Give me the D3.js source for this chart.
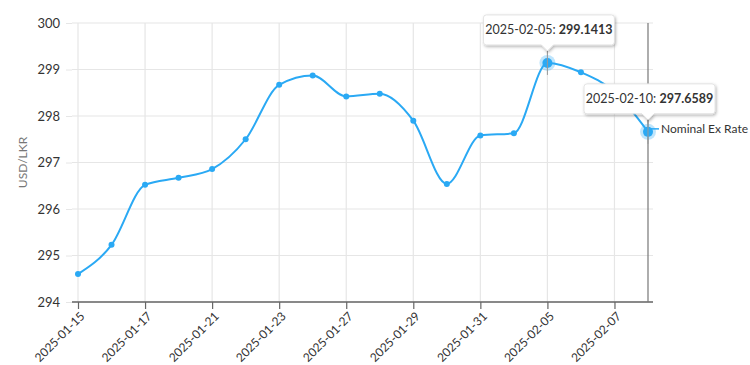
<html>
<head>
<script src="https://d3js.org/d3.v7.min.js"></script>
<style>
  body { margin: 0; background: #fff; }
  text { font-family: Lato, "Open Sans", sans-serif; }
</style>
</head>
<body>
<div id="chart"></div>
<script>
// data
var dates = ["2025-01-15", "2025-01-16", "2025-01-17", "2025-01-20", "2025-01-21", "2025-01-22",
             "2025-01-23", "2025-01-24", "2025-01-27", "2025-01-28", "2025-01-29", "2025-01-30",
             "2025-01-31", "2025-02-03", "2025-02-05", "2025-02-06", "2025-02-07", "2025-02-10"];
var rates = [294.60, 295.23, 296.52, 296.67, 296.86, 297.50,
             298.67, 298.87, 298.42, 298.48, 297.90, 296.54,
             297.58, 297.63, 299.1413, 298.94, 298.52, 297.6589];
var labelDates = ["2025-01-15", "2025-01-17", "2025-01-21", "2025-01-23", "2025-01-27",
                  "2025-01-29", "2025-01-31", "2025-02-05", "2025-02-07"];
var yTicks = [294, 295, 296, 297, 298, 299, 300];
var seriesName = "Nominal Ex Rate";
var yTitle = "USD/LKR";
var tipDates = ["2025-02-05", "2025-02-10"];

var W = 750, H = 365;
var plotL = 72, plotR = 653, plotT = 23, plotB = 302;
var color = "#2aa9f4";

var svg = d3.select("#chart").append("svg")
    .attr("width", W).attr("height", H);

var x = d3.scalePoint().domain(dates).range([78, 648]);
var y = d3.scaleLinear().domain([294, 300]).range([plotB, plotT]);

// grid
svg.append("g").selectAll("line").data(yTicks).enter().append("line")
    .attr("x1", plotL).attr("x2", plotR)
    .attr("y1", function(d) { return y(d); }).attr("y2", function(d) { return y(d); })
    .attr("stroke", "#e6e6e6").attr("stroke-width", 1.2);
svg.append("g").selectAll("line").data(labelDates).enter().append("line")
    .attr("x1", function(d) { return x(d); }).attr("x2", function(d) { return x(d); })
    .attr("y1", plotT).attr("y2", plotB)
    .attr("stroke", "#e6e6e6").attr("stroke-width", 1.2);

// y axis
var yAxis = svg.append("g")
    .attr("transform", "translate(" + plotL + ",0)")
    .call(d3.axisLeft(y).tickValues(yTicks).tickSize(6).tickPadding(6).tickFormat(d3.format("d")));
yAxis.select(".domain").remove();
yAxis.selectAll("line").attr("stroke", "#e6e6e6");
yAxis.selectAll("text").attr("fill", "#333").style("font-size", "13px");

// x axis
var xAxis = svg.append("g")
    .attr("transform", "translate(0," + plotB + ")")
    .call(d3.axisBottom(x).tickValues(labelDates).tickSize(7).tickSizeOuter(0));
xAxis.select(".domain").attr("d", "M" + plotL + ",0H" + plotR).attr("stroke", "#666").attr("stroke-width", 1.5);
xAxis.selectAll("line").attr("stroke", "#666").attr("stroke-width", 1.2);
xAxis.selectAll("text")
    .attr("fill", "#333").style("font-size", "12px")
    .attr("text-anchor", "end")
    .attr("x", 0).attr("y", 0)
    .attr("dy", "0.35em")
    .attr("transform", "translate(4,12) rotate(-45)");

// y title
svg.append("text")
    .attr("transform", "translate(27," + ((plotT + plotB) / 2) + ") rotate(-90)")
    .attr("text-anchor", "middle")
    .attr("fill", "#777").style("font-size", "12px")
    .text(yTitle);

// cursor line at last point
var lastDate = dates[dates.length - 1];
svg.append("line")
    .attr("x1", x(lastDate)).attr("x2", x(lastDate))
    .attr("y1", plotT).attr("y2", plotB)
    .attr("stroke", "#777").attr("stroke-width", 1.2);

// series line
var line = d3.line()
    .x(function(d, i) { return x(dates[i]); })
    .y(function(d) { return y(d); })
    .curve(d3.curveMonotoneX);
svg.append("path").datum(rates)
    .attr("fill", "none").attr("stroke", color).attr("stroke-width", 2).attr("d", line);

svg.append("g").selectAll("circle").data(rates).enter().append("circle")
    .attr("cx", function(d, i) { return x(dates[i]); })
    .attr("cy", function(d) { return y(d); })
    .attr("r", 3).attr("fill", color);

// series label
var lastVal = rates[rates.length - 1];
svg.append("line")
    .attr("x1", x(lastDate) + 3).attr("x2", x(lastDate) + 11)
    .attr("y1", y(lastVal) - 3).attr("y2", y(lastVal) - 3)
    .attr("stroke", color).attr("stroke-width", 1.5);
svg.append("text")
    .attr("x", x(lastDate) + 13).attr("y", y(lastVal) - 3)
    .attr("dy", "0.35em")
    .attr("fill", "#333").style("font-size", "12px")
    .text(seriesName);

// tooltips
var defs = svg.append("defs");
var f = defs.append("filter").attr("id", "shadow").attr("x", "-20%").attr("y", "-30%").attr("width", "140%").attr("height", "170%");
f.append("feDropShadow").attr("dx", 1).attr("dy", 1.5).attr("stdDeviation", 1.5).attr("flood-color", "#000").attr("flood-opacity", 0.3);

tipDates.forEach(function(dt) {
    var i = dates.indexOf(dt);
    var cx = x(dt), cy = y(rates[i]);
    // halo and highlighted point
    svg.append("circle").attr("cx", cx).attr("cy", cy).attr("r", 8)
        .attr("fill", color).attr("fill-opacity", 0.3);
    svg.append("circle").attr("cx", cx).attr("cy", cy).attr("r", 5).attr("fill", color);

    var tipY = cy - 12;          // pointer tip
    var bw = 131, bh = 30;
    var bx = cx - 64, by = tipY - 6 - bh;
    // crosshair stub
    svg.append("line").attr("x1", cx).attr("x2", cx).attr("y1", tipY).attr("y2", cy + 12)
        .attr("stroke", "#999").attr("stroke-width", 1);
    var g = svg.append("g");
    var r = 3;
    var p = "M" + (bx + r) + "," + by +
        "H" + (bx + bw - r) + "Q" + (bx + bw) + "," + by + " " + (bx + bw) + "," + (by + r) +
        "V" + (by + bh - r) + "Q" + (bx + bw) + "," + (by + bh) + " " + (bx + bw - r) + "," + (by + bh) +
        "H" + (cx + 6) + "L" + cx + "," + tipY + "L" + (cx - 6) + "," + (by + bh) +
        "H" + (bx + r) + "Q" + bx + "," + (by + bh) + " " + bx + "," + (by + bh - r) +
        "V" + (by + r) + "Q" + bx + "," + by + " " + (bx + r) + "," + by + "Z";
    g.append("path").attr("d", p).attr("fill", "#fff")
        .attr("stroke", "#ddd").attr("stroke-width", 0.8).attr("filter", "url(#shadow)");
    var t = g.append("text").attr("x", bx + bw / 2).attr("y", by + bh / 2).attr("dy", "0.35em")
        .attr("text-anchor", "middle").attr("fill", "#333").style("font-size", "12.5px");
    t.append("tspan").text(dt + ": ");
    t.append("tspan").attr("font-weight", "bold").text(d3.format(".4f")(rates[i]));
});
</script>
</body>
</html>
